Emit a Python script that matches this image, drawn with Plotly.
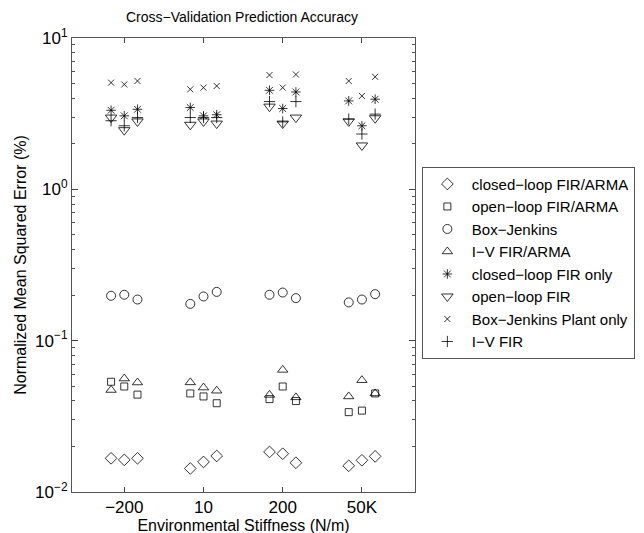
import plotly.graph_objects as go

categories = ["\u2212200", "10", "200", "50K"]
trial_offsets = [-1 / 6, 0, 1 / 6]

# 3 trials per stiffness category, in order -200, 10, 200, 50K
closed_fir_arma = [0.0167, 0.0163, 0.0167, 0.0143, 0.0158, 0.0173, 0.0184, 0.0179, 0.0156, 0.0149, 0.0162, 0.0172]
open_fir_arma = [0.0535, 0.0498, 0.0440, 0.0448, 0.0428, 0.0386, 0.0411, 0.0498, 0.0399, 0.0337, 0.0345, 0.0448]
box_jenkins = [0.198, 0.201, 0.187, 0.175, 0.196, 0.210, 0.201, 0.208, 0.191, 0.179, 0.187, 0.203]
iv_fir_arma = [0.0472, 0.0562, 0.0529, 0.0530, 0.0490, 0.0467, 0.0438, 0.0641, 0.0422, 0.0428, 0.0548, 0.0448]
closed_fir_only = [3.33, 3.06, 3.38, 3.47, 3.06, 3.11, 4.51, 3.42, 4.40, 3.84, 2.63, 3.94]
open_fir = [2.98, 2.46, 2.81, 2.67, 2.81, 2.72, 3.52, 2.72, 2.98, 2.81, 1.95, 2.95]
bj_plant_only = [5.07, 4.93, 5.20, 4.58, 4.70, 4.82, 5.69, 4.70, 5.74, 5.20, 4.14, 5.54]
iv_fir = [2.84, 2.63, 2.98, 2.98, 2.98, 2.98, 3.80, 2.79, 3.80, 2.91, 2.32, 3.14]

series = [
    ("closed\u2212loop FIR/ARMA", closed_fir_arma, "diamond-open", 9),
    ("open\u2212loop FIR/ARMA", open_fir_arma, "square-open", 7),
    ("Box\u2212Jenkins", box_jenkins, "circle-open", 9),
    ("I\u2212V FIR/ARMA", iv_fir_arma, "triangle-up-open", 9),
    ("closed\u2212loop FIR only", closed_fir_only, "asterisk-open", 8),
    ("open\u2212loop FIR", open_fir, "triangle-down-open", 10),
    ("Box\u2212Jenkins Plant only", bj_plant_only, "x-thin-open", 6),
    ("I\u2212V FIR", iv_fir, "cross-thin-open", 8),
]

xs = [i + 1 + off for i in range(len(categories)) for off in trial_offsets]

fig = go.Figure()
for name, vals, sym, size in series:
    fig.add_trace(go.Scatter(
        x=xs, y=vals, mode="markers", name=name,
        marker=dict(symbol=sym, size=size, color="black",
                    line=dict(color="black", width=0.8)),
    ))

major = [0.01, 0.1, 1, 10]
minor = [m * 10 ** k for k in (-2, -1, 0) for m in range(2, 10)]

fig.update_layout(
    width=644, height=533,
    margin=dict(l=61, r=237, t=30, b=46),
    plot_bgcolor="white", paper_bgcolor="white",
    font=dict(family="Liberation Sans, Arial, sans-serif", size=14, color="black"),
    title=dict(text="Cross\u2212Validation Prediction Accuracy", x=234 / 644, xanchor="center",
               y=0.982, yanchor="middle", font=dict(size=14)),
    legend=dict(x=1.02, y=0.505, xanchor="left", yanchor="middle",
                bordercolor="#555", borderwidth=1, bgcolor="white",
                font=dict(size=15), tracegroupgap=0, itemwidth=39),
    xaxis=dict(
        range=[0.34, 4.67], tickmode="array", tickvals=[1, 2, 3, 4], ticktext=categories,
        ticks="inside", ticklen=5, mirror="ticks", showline=True, linecolor="#555",
        showgrid=False, zeroline=False, tickfont=dict(size=17),
        title=dict(text="Environmental Stiffness (N/m)", font=dict(size=16), standoff=0),
    ),
    yaxis=dict(
        type="log", range=[-2, 1], tickmode="array", tickvals=major,
        ticktext=["10<sup>\u22122</sup>", "10<sup>\u22121</sup>", "10<sup>0</sup>", "10<sup>1</sup>"],
        ticks="inside", ticklen=6, mirror="allticks", showline=True, linecolor="#555",
        showgrid=False, zeroline=False, tickfont=dict(size=17),
        minor=dict(tickmode="array", tickvals=minor, ticks="inside", ticklen=3, tickcolor="#555"),
        title=dict(text="Normalized Mean Squared Error (%)", font=dict(size=16), standoff=4),
    ),
)

fig.write_html("out.html")
